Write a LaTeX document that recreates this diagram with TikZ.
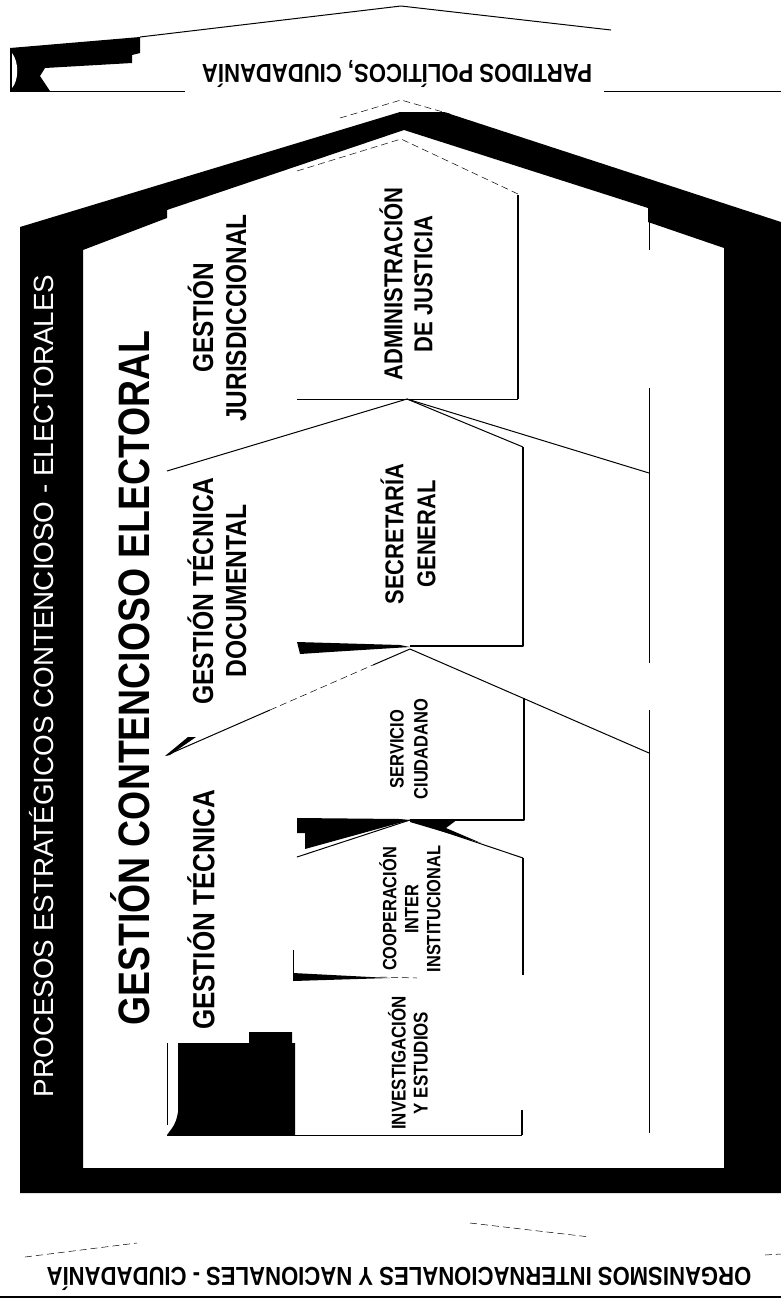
\documentclass[tikz,border=0pt]{standalone}
\usepackage{fontspec}
\setmainfont{Liberation Sans}
\newfontfamily\narrow[FakeStretch=0.85]{Liberation Sans}
\newcommand\cf[2]{\narrow\bfseries\fontsize{#1}{#2}\selectfont}
\usepackage{tikz}
\begin{document}
\begin{tikzpicture}[x=1pt,y=-1pt,line join=round,
  lab/.style={rotate=90,align=center,inner sep=0pt},
  band/.style={rotate=180,inner sep=0pt,font=\cf{26}{30}},
  wall/.style={line width=1.8pt},
  fin/.style={line width=1pt},
  faint/.style={line width=0.5pt,dash pattern=on 7pt off 4pt}]
\useasboundingbox(0,0)rectangle(781,1302);
% la casa
\fill[even odd rule](20,1193)--(20,227)--(400,112)--(444,112)--(781,222)--(781,1193)--cycle
  (83,1168)--(83,250)--(167,218)--(167,210)--(404,130)--(648,208)--(648,222)--(724,248)--(724,1168)--cycle;
\node[lab,text=white,font=\fontsize{27.8}{32}\selectfont](procesos)at(42,686){PROCESOS ESTRATÉGICOS CONTENCIOSO - ELECTORALES};
% arriba y abajo
\fill(10,48)--(140,37)--(140,53)--(132,55)--(132,63)--(45,68)--(40,76)--(50,91)--(10,91)--cycle;
\fill[white](12,53)..controls(19,62)and(19,80)..(12,88)--cycle;
\draw[fin](140,37)--(401,6)--(611,30);
\draw[fin](10,91)--(185,91)(604,91)--(781,91);
\draw[line width=1.6pt](0,1297)--(781,1297);
\draw[faint](340,118)--(401,100)--(450,114)(25,1257)--(137,1243)(470,1223)--(590,1237)(765,1255)--(781,1254);
\node[band](partidos)at(397,74){PARTIDOS POLÍTICOS, CIUDADANÍA};
\node[band](organismos)at(399,1279){ORGANISMOS INTERNACIONALES Y NACIONALES - CIUDADANÍA};
% techos
\draw[fin](167,471)--(407,399)--(649,473);
\draw[fin](167,755)--(270,710)(373,665)--(410,649)--(649,753);
\draw[faint](270,710)--(373,665)(297,171)--(401,139)--(518,194)(380,977)--(417,978);
\fill(165,756)--(188,737)--(196,737)--(170,755)--cycle;
\draw[fin](649,222)--(649,250)(649,388)--(649,663)(649,710)--(649,1133);
% cajas
\draw[wall](518,195)--(518,399);
\draw[fin](297,399)--(518,399);
\draw[fin](407,399)--(523,447);
\draw[wall](523,447)--(523,646)--(410,646);
\fill(297,642)--(400,645)--(410,647)--(330,652)--(300,654)--cycle;
\draw[wall](524,698)--(524,820)--(410,820);
\fill(297,818)--(400,819)--(410,820)--(305,849)--(305,833)--(297,833)--cycle;
\fill(410,819)--(458,819)--(446,828)--(481,843)--(410,822)--cycle;
\draw[fin](297,857)--(410,820)--(523,858);
\draw[wall](523,858)--(523,975);
\draw[fin](293,950)--(293,974);
\fill(293,973)--(390,978)--(293,981)--cycle;
\fill(178,1043)--(178,1112)..controls(176,1126)and(170,1130)..(167,1135)--(295,1135)--(295,1043)--(292,1043)--(292,1032)--(249,1032)--(249,1043)--cycle;
\draw[fin](167,1043)--(167,1125)(167,1135)--(522,1135);
\draw[wall](522,1110)--(522,1135);
% textos
\node[lab,font=\cf{44}{50}](gce)at(130,678){GESTIÓN CONTENCIOSO ELECTORAL};
\node[lab,font=\cf{28.7}{33}](jur)at(217,318){GESTIÓN\\JURISDICCIONAL};
\node[lab,font=\cf{25.9}{30}](adm)at(406,284){ADMINISTRACIÓN\\DE JUSTICIA};
\node[lab,font=\cf{29}{33}](doc)at(217,591){GESTIÓN TÉCNICA\\DOCUMENTAL};
\node[lab,font=\cf{25.8}{32}](sec)at(408,534){SECRETARÍA\\GENERAL};
\node[lab,font=\cf{30.6}{34}](tec)at(201,910){GESTIÓN TÉCNICA};
\node[lab,font=\cf{19.4}{24}](ser)at(409,749){SERVICIO\\CIUDADANO};
\node[lab,font=\cf{19.3}{22}](coo)at(410,909){COOPERACIÓN\\INTER\\INSTITUCIONAL};
\node[lab,font=\cf{19.9}{22}](inv)at(408,1063){INVESTIGACIÓN\\Y ESTUDIOS};
\end{tikzpicture}
\end{document}
